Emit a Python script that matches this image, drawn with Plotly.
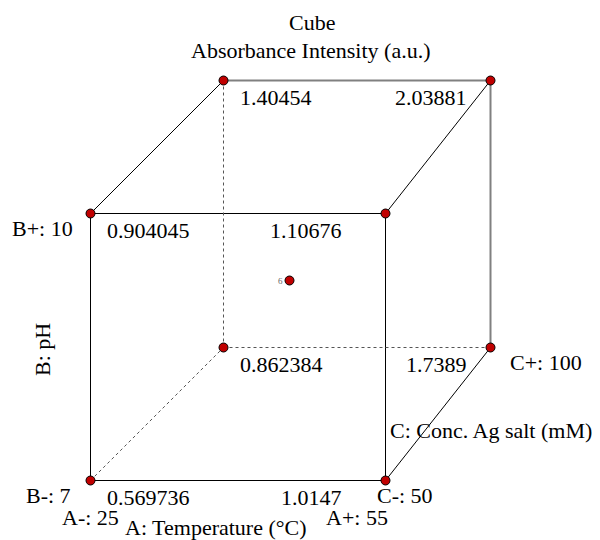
import plotly.graph_objects as go

# ---- data ----
factor_names = ["A: Temperature (°C)", "B: pH", "C: Conc. Ag salt (mM)"]
A_levels = [25, 55]
B_levels = [7, 10]
C_levels = [50, 100]
# standard order (A, B, C) coded 0/1
runs_A = [0, 1, 0, 1, 0, 1, 0, 1]
runs_B = [0, 0, 1, 1, 0, 0, 1, 1]
runs_C = [0, 0, 0, 0, 1, 1, 1, 1]
response = [0.569736, 1.0147, 0.904045, 1.10676, 0.862384, 1.7389, 1.40454, 2.03881]
center_count = 6
title_lines = ["Cube", "Absorbance Intensity (a.u.)"]

# ---- projection (screen-pixel layout of cube) ----
X0, WA, DC, K = 90.5, 295, 133, 28
Y0, HB, DY = 480.5, 267, 133


def proj(a, b, c):
    return X0 + WA * a + DC * c - K * a * c, Y0 - HB * b - DY * c


FONT = "Liberation Serif, Times New Roman, serif"
FS = 22
RED = "#c00000"

fig = go.Figure()

# edges
corners = list(zip(runs_A, runs_B, runs_C))
for i in range(8):
    for j in range(i + 1, 8):
        p, q = corners[i], corners[j]
        if sum(abs(p[k] - q[k]) for k in range(3)) != 1:
            continue
        hidden = (0, 0, 1)
        if p == hidden or q == hidden:
            style = dict(color="#555555", width=1, dash="dot")
        elif p[2] == 1 and q[2] == 1:
            style = dict(color="#808080", width=2)
        else:
            style = dict(color="black", width=1)
        x1, y1 = proj(*p)
        x2, y2 = proj(*q)
        fig.add_trace(go.Scatter(x=[x1, x2], y=[y1, y2], mode="lines",
                                 line=style, hoverinfo="skip", showlegend=False))

# corner points
px, py = zip(*[proj(*c) for c in corners])
fig.add_trace(go.Scatter(x=list(px), y=list(py), mode="markers",
                         marker=dict(size=9, color=RED, line=dict(color="black", width=1)),
                         showlegend=False, hoverinfo="skip"))
# center point
cx, cy = proj(0.5, 0.5, 0.5)
cx -= 8
fig.add_trace(go.Scatter(x=[cx], y=[cy], mode="markers",
                         marker=dict(size=9, color=RED, line=dict(color="black", width=1)),
                         showlegend=False, hoverinfo="skip"))

ann = []


def add(text, x, y, xanchor="center", xshift=0, yshift=0, size=FS, color="black", angle=0):
    ann.append(dict(text=text, x=x, y=y, xref="x", yref="y", showarrow=False,
                    xanchor=xanchor, yanchor="middle", xshift=xshift, yshift=yshift,
                    textangle=angle, font=dict(family=FONT, size=size, color=color)))


# response labels
for (a, b, c), v in zip(corners, response):
    x, y = proj(a, b, c)
    if a == 0:
        add(f"{v:g}", x, y, xanchor="left", xshift=14, yshift=-17)
    else:
        add(f"{v:g}", x, y, xanchor="right", xshift=-42 if c == 0 else -22, yshift=-17)

add(str(center_count), cx, cy, xanchor="right", xshift=-5, size=9, color="#666666")

# factor level labels
x, y = proj(0, 1, 0)
add(f"B+: {B_levels[1]}", x, y, xanchor="right", xshift=-16, yshift=-15)
x, y = proj(0, 0, 0)
add(f"B-: {B_levels[0]}", x, y, xanchor="right", xshift=-18, yshift=-15)
add(f"A-: {A_levels[0]}", x, y, xanchor="center", yshift=-37)
add(factor_names[0], x, y, xanchor="left", xshift=32, yshift=-47)
x, y = proj(1, 0, 0)
add(f"A+: {A_levels[1]}", x, y, xanchor="right", xshift=4, yshift=-37)
add(f"C-: {C_levels[0]}", x, y, xanchor="left", xshift=-11, yshift=-15)
x, y = proj(1, 0, 1)
add(f"C+: {C_levels[1]}", x, y, xanchor="left", xshift=17, yshift=-15)
x1, y1 = proj(1, 0, 0)
add(factor_names[2], (x1 + x) / 2 + 53, (y1 + y) / 2 + 16, xanchor="center")
add(factor_names[1], 42, (proj(0, 0, 0)[1] + proj(0, 1, 0)[1]) / 2 + 3, angle=-90)

# title
add(title_lines[0], 312, 22)
add(title_lines[1], 310, 50)

fig.update_layout(
    width=600, height=540,
    margin=dict(l=0, r=0, t=0, b=0),
    paper_bgcolor="white", plot_bgcolor="white",
    xaxis=dict(range=[0, 600], visible=False, fixedrange=True),
    yaxis=dict(range=[540, 0], visible=False, fixedrange=True),
    annotations=ann,
    showlegend=False,
)
fig.write_html("out.html")
